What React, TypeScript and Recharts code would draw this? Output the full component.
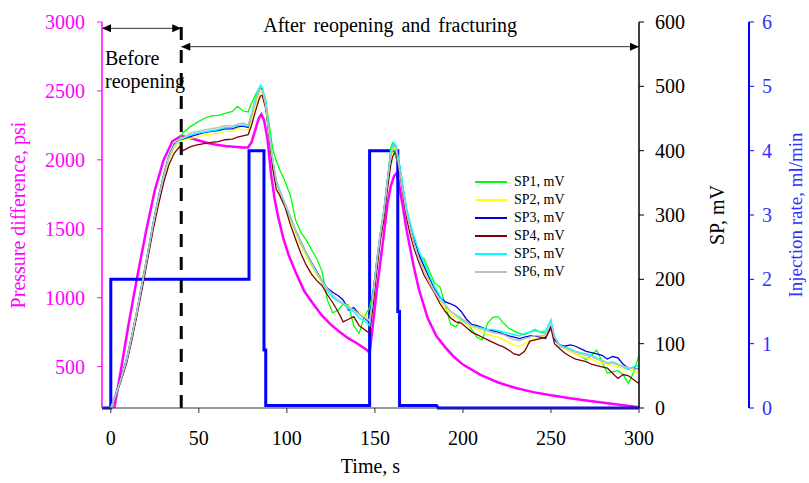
import { LineChart, Line, XAxis, YAxis, ReferenceLine, Legend } from 'recharts';

// SP readings, mV (shared time base, s)
const spTime = [
  0, 3, 6, 9, 12, 15, 18, 21, 24, 27,
  30, 33, 36, 39, 41, 45, 49, 53, 57, 61,
  65, 69, 72, 75, 78, 80, 82, 84, 85, 86,
  88, 90, 92, 94, 96, 99, 102, 105, 108, 111,
  114, 117, 120, 123, 126, 129, 132, 135, 138, 141,
  144, 147, 149, 151, 153, 155, 157, 159, 160, 161,
  162, 164, 166, 168, 170, 172, 175, 178, 181, 184,
  187, 190, 193, 196, 199, 202, 205, 208, 211, 214,
  217, 220, 223, 226, 229, 232, 235, 238, 241, 244,
  247, 250, 252, 255, 258, 261, 264, 267, 270, 273,
  276, 279, 282, 285, 288, 291, 294, 297, 300,
];

const sp1 = [
  0, 20, 45, 72, 110, 150, 195, 240, 285, 325,
  362, 392, 410, 418, 428, 437, 444, 450, 454, 455,
  458, 461, 469, 462, 460, 474, 486, 496, 497, 494,
  478, 440, 402, 384, 370, 352, 330, 292, 273, 261,
  246, 232, 212, 168, 148, 152, 162, 160, 128, 116,
  142, 156, 182, 222, 265, 302, 352, 405, 412, 398,
  388, 378, 342, 306, 282, 262, 236, 232, 212, 194,
  188, 160, 130, 126, 138, 134, 122, 110, 106, 132,
  141, 142, 132, 124, 120, 116, 114, 118, 122, 118,
  116, 130, 108, 95, 93, 88, 84, 80, 75, 82,
  90, 72, 54, 56, 58, 52, 38, 56, 82,
];

const sp2 = [
  0, 22, 46, 74, 110, 150, 194, 238, 283, 322,
  357, 386, 404, 412, 416, 419, 421, 424, 426, 427,
  430, 430, 434, 433, 432, 448, 468, 486, 491, 490,
  468, 422, 382, 352, 334, 312, 292, 270, 252, 236,
  220, 206, 194, 182, 174, 168, 162, 158, 154, 150,
  145, 135, 172, 222, 265, 300, 348, 390, 400, 404,
  400, 372, 338, 305, 282, 262, 238, 218, 198, 180,
  165, 154, 146, 140, 136, 130, 126, 122, 118, 115,
  112, 110, 106, 102, 98, 96, 100, 104, 108, 110,
  112, 128, 108, 96, 92, 88, 84, 80, 78, 76,
  72, 70, 68, 66, 64, 62, 60, 57, 55,
];

const sp3 = [
  0, 24, 49, 77, 114, 154, 198, 242, 287, 327,
  362, 392, 410, 416, 418, 422, 425, 428, 430, 431,
  434, 434, 437, 438, 436, 456, 476, 492, 497, 496,
  472, 425, 382, 352, 336, 316, 297, 276, 258, 241,
  226, 212, 198, 186, 180, 175, 168, 152, 156, 146,
  140, 133, 180, 228, 270, 305, 352, 394, 404, 410,
  406, 376, 340, 308, 285, 264, 238, 220, 202, 185,
  172, 165, 162, 158, 150, 138, 130, 128, 125, 122,
  120, 118, 115, 112, 110, 108, 110, 112, 112, 110,
  108, 128, 106, 98, 96, 98, 96, 92, 88, 86,
  84, 82, 76, 80, 78, 68, 62, 62, 60,
];

const sp4 = [
  0, 20, 44, 70, 106, 146, 188, 232, 276, 315,
  350, 378, 396, 406, 400, 406, 409, 411, 413, 414,
  417, 418, 421, 423, 425, 440, 460, 478, 485, 486,
  466, 420, 372, 340, 330, 312, 285, 262, 240, 222,
  208, 198, 190, 176, 164, 150, 134, 138, 142, 128,
  122, 116, 160, 212, 258, 292, 338, 378, 390, 396,
  396, 368, 330, 295, 270, 250, 226, 206, 192, 178,
  162, 150, 140, 134, 132, 125, 118, 114, 110, 106,
  102, 98, 95, 90, 84, 82, 88, 104, 106, 108,
  110, 124, 100, 92, 85, 80, 76, 74, 72, 68,
  66, 64, 62, 54, 46, 52, 50, 44, 38,
];

const sp5 = [
  0, 22, 47, 75, 112, 152, 196, 240, 285, 325,
  360, 390, 408, 416, 419, 424, 427, 429, 431, 433,
  436, 436, 439, 440, 438, 458, 480, 496, 502, 500,
  476, 428, 385, 355, 338, 316, 296, 275, 256, 240,
  224, 210, 196, 182, 172, 166, 162, 154, 150, 140,
  136, 128, 176, 226, 270, 305, 352, 396, 408, 412,
  408, 378, 344, 310, 288, 268, 244, 226, 206, 188,
  174, 160, 150, 144, 138, 132, 128, 126, 124, 122,
  122, 120, 118, 116, 114, 112, 116, 118, 120, 118,
  120, 137, 112, 98, 94, 92, 88, 86, 84, 82,
  78, 74, 70, 72, 68, 64, 60, 64, 66,
];

const sp6 = [
  0, 22, 47, 75, 112, 152, 196, 240, 285, 325,
  360, 390, 408, 417, 420, 427, 430, 432, 434, 436,
  439, 438, 441, 443, 440, 455, 475, 492, 496, 494,
  470, 424, 385, 352, 336, 318, 298, 275, 257, 240,
  225, 210, 198, 185, 176, 168, 163, 157, 152, 146,
  141, 135, 175, 225, 268, 303, 350, 392, 404, 408,
  404, 370, 335, 303, 280, 258, 232, 212, 195, 180,
  168, 160, 150, 145, 140, 133, 128, 125, 122, 120,
  117, 116, 114, 110, 106, 105, 108, 110, 113, 112,
  114, 132, 110, 96, 93, 90, 87, 84, 82, 80,
  76, 73, 70, 70, 67, 65, 63, 61, 60,
];

// pressure difference, psi
const pressureTime = [
  2, 5, 10, 15, 20, 25, 30, 35, 40, 45,
  50, 55, 60, 65, 70, 75, 78, 80, 82, 84,
  85.5, 87, 89, 91, 93, 95, 98, 101, 105, 110,
  115, 120, 125, 130, 135, 140, 145, 147, 149, 151,
  153, 155, 157, 159, 161, 162.5, 164, 166, 168, 170,
  172, 175, 180, 185, 190, 195, 200, 210, 220, 230,
  240, 250, 260, 270, 280, 290, 300,
];
const pressure = [
  200, 420, 800, 1150, 1480, 1780, 2000, 2135, 2175, 2158,
  2140, 2122, 2110, 2100, 2095, 2090, 2090, 2130, 2215, 2300,
  2330, 2290, 2150, 1900, 1720, 1590, 1430, 1310, 1185, 1045,
  955, 870, 805, 752, 705, 668, 625, 600, 820, 1050,
  1250, 1450, 1670, 1810, 1885, 1905, 1800, 1650, 1490, 1360,
  1230, 1060, 850, 720, 640, 570, 515, 440, 385, 345,
  315, 292, 272, 255, 238, 222, 205,
];

// injection rate, ml/min (step profile)
const rateTime = [-5, 0, 0, 78.5, 78.5, 87, 87, 88, 88, 147, 147, 163, 163, 164, 164, 185, 186, 300];
const rate = [0, 0, 2, 2, 4, 4, 0.9, 0.9, 0.04, 0.04, 4, 4, 1.5, 1.5, 0.04, 0.04, 0, 0];

const xTicks = [0, 50, 100, 150, 200, 250, 300];
const pTicks = [500, 1000, 1500, 2000, 2500, 3000];
const spTicks = [0, 100, 200, 300, 400, 500, 600];
const rateTicks = [0, 1, 2, 3, 4, 5, 6];

const spSeries = [
  { name: 'SP1, mV', values: sp1, color: '#00FF00', width: 1.3 },
  { name: 'SP2, mV', values: sp2, color: '#FFFF00', width: 1.3 },
  { name: 'SP3, mV', values: sp3, color: '#0000DD', width: 1.3 },
  { name: 'SP4, mV', values: sp4, color: '#800000', width: 1.3 },
  { name: 'SP5, mV', values: sp5, color: '#00FFFF', width: 1.5 },
  { name: 'SP6, mV', values: sp6, color: '#C0C0C0', width: 1.5 },
];

const toRows = (ts: number[], vs: number[]) => ts.map((t, i) => ({ t, v: vs[i] }));

const FONT = '"Liberation Serif", "Times New Roman", serif';
const MAGENTA = '#FF00FF';
const BLUE = '#0000FF';

// double-headed arrow with its caption, drawn on a ReferenceLine segment
const arrowShape = (lines: string[], dx: number, dy: number, lineGap: number) => (props: any) => {
  const { x1, y1, x2 } = props;
  const h = 9;
  const w = 4;
  return (
    <g>
      <line x1={x1} y1={y1} x2={x2} y2={y1} stroke="#333" strokeWidth={1} />
      <polygon points={`${x1},${y1} ${x1 + h},${y1 - w} ${x1 + h},${y1 + w}`} fill="#000" />
      <polygon points={`${x2},${y1} ${x2 - h},${y1 - w} ${x2 - h},${y1 + w}`} fill="#000" />
      {lines.map((s, i) => (
        <text key={s} x={x1 + dx} y={y1 + dy + i * lineGap} fontSize={20} fontFamily={FONT}
          fill="#000" style={{ wordSpacing: 3 }}>{s}</text>
      ))}
    </g>
  );
};

const SpLegend = ({ payload }: any) => {
  const items = (payload || [])
    .filter((p: any) => String(p.value).startsWith('SP'))
    .sort((a: any, b: any) => String(a.value).localeCompare(String(b.value)));
  return (
    <div style={{ fontFamily: FONT, fontSize: 14, color: '#000' }}>
      {items.map((p: any) => (
        <div key={p.value} style={{ display: 'flex', alignItems: 'center', height: 18 }}>
          <svg width={32} height={4} style={{ display: 'block' }}>
            <line x1={0} y1={2} x2={32} y2={2} stroke={p.color} strokeWidth={2} />
          </svg>
          <span style={{ marginLeft: 7, lineHeight: '18px' }}>{p.value}</span>
        </div>
      ))}
    </div>
  );
};

export default function App() {
  return (
    <div style={{ position: 'absolute', left: 0, top: 0, width: 809, height: 483, background: '#fff' }}>
      <style>{`.recharts-wrapper text, .recharts-text { font-family: ${FONT}; }`}</style>
      <LineChart width={809} height={483} margin={{ top: 22, right: 0, bottom: 0, left: 0 }}
        style={{ fontFamily: FONT }}>
        <XAxis dataKey="t" type="number" domain={[-5, 300]} ticks={xTicks} height={75}
          stroke="#333" tickSize={5} tickMargin={18}
          tick={{ fontSize: 20, fill: '#000', fontFamily: FONT }}
          label={{ value: 'Time, s', position: 'insideBottom', offset: 10,
            style: { fontSize: 20, fill: '#000', fontFamily: FONT } }} />
        <YAxis yAxisId="left" orientation="left" width={102} domain={[200, 3000]} ticks={pTicks}
          stroke={MAGENTA} axisLine={{ stroke: MAGENTA, strokeWidth: 1.5 }} tickSize={5} tickMargin={12}
          tick={{ fontSize: 20, fill: MAGENTA, fontFamily: FONT }}
          label={{ value: 'Pressure difference, psi', angle: -90, position: 'insideLeft', offset: 18,
            style: { textAnchor: 'middle', fontSize: 20, fill: MAGENTA, fontFamily: FONT } }} />
        <YAxis yAxisId="r1" orientation="right" width={110} domain={[0, 600]} ticks={spTicks}
          stroke="#000" axisLine={{ stroke: '#000', strokeWidth: 1.5 }} tickSize={5} tickMargin={11}
          tick={{ fontSize: 20, fill: '#000', fontFamily: FONT }}
          label={{ value: 'SP, mV', angle: -90, position: 'insideRight', offset: 32,
            style: { textAnchor: 'middle', fontSize: 20, fill: '#000', fontFamily: FONT } }} />
        <YAxis yAxisId="r2" orientation="right" width={60} domain={[0, 6]} ticks={rateTicks}
          stroke={BLUE} axisLine={{ stroke: BLUE, strokeWidth: 2 }} tickSize={5} tickMargin={8}
          tick={{ fontSize: 20, fill: '#3030FF', fontFamily: FONT }}
          label={{ value: 'Injection rate, ml/min', angle: -90, position: 'insideRight', offset: 14,
            style: { textAnchor: 'middle', fontSize: 19, fill: '#3030FF', fontFamily: FONT } }} />

        <Line yAxisId="left" data={toRows(pressureTime, pressure)} dataKey="v" name="Pressure difference"
          stroke={MAGENTA} strokeWidth={2.5} dot={false} activeDot={false} isAnimationActive={false} />
        <Line yAxisId="r2" data={toRows(rateTime, rate)} dataKey="v" name="Injection rate"
          stroke={BLUE} strokeWidth={3} dot={false} activeDot={false} isAnimationActive={false} />
        {spSeries.map((s) => (
          <Line key={s.name} yAxisId="r1" data={toRows(spTime, s.values)} dataKey="v" name={s.name}
            stroke={s.color} strokeWidth={s.width} dot={false} activeDot={false} isAnimationActive={false} />
        ))}

        <ReferenceLine yAxisId="left" x={40} stroke="#000" strokeWidth={3} strokeDasharray="13 10" />
        <ReferenceLine yAxisId="left" segment={[{ x: -5, y: 2954 }, { x: 40, y: 2954 }]}
          shape={arrowShape(['Before', 'reopening'], 3, 37, 23)} />
        <ReferenceLine yAxisId="left" segment={[{ x: 40, y: 2821 }, { x: 300, y: 2821 }]}
          shape={arrowShape(['After reopening and fracturing'], 82, -15, 0)} />

        <Legend content={SpLegend} layout="vertical" align="center" verticalAlign="middle"
          wrapperStyle={{ left: 475, top: 173, width: 110 }} />
      </LineChart>
    </div>
  );
}
